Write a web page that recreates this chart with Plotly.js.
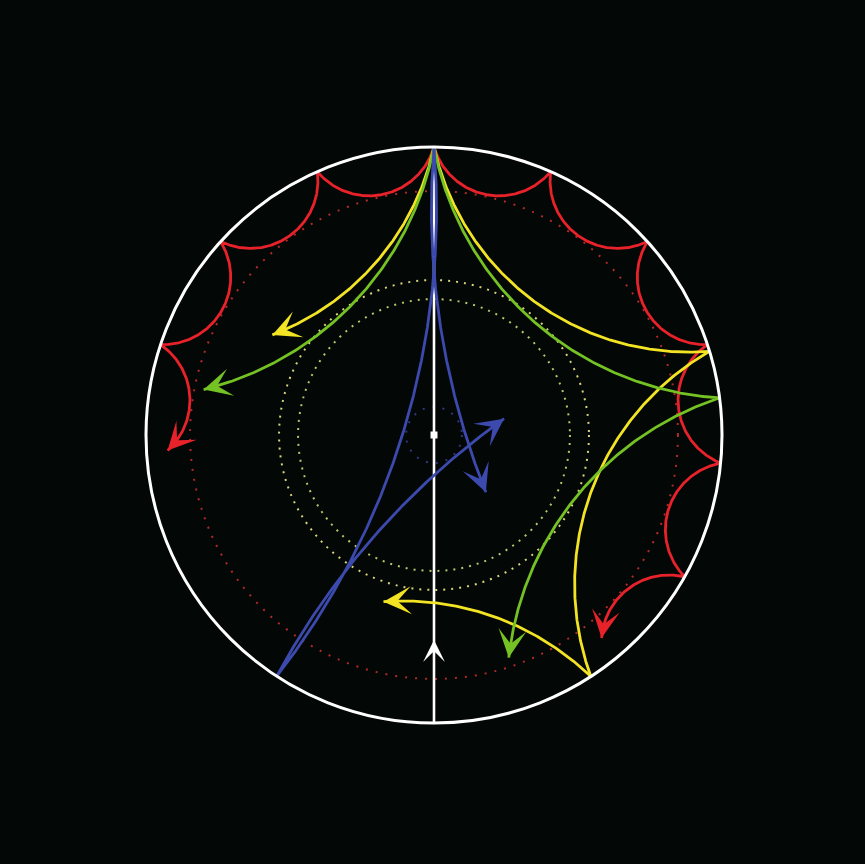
<!DOCTYPE html>
<html>
<head>
<meta charset="utf-8">
<script src="https://cdn.plot.ly/plotly-3.0.1.min.js"></script>
<style>html,body{margin:0;padding:0;background:#030705;}</style>
</head>
<body>
<div id="chart" style="width:865px;height:864px;"></div>
<script>
// Boundary bounce angles (degrees), final entry = next boundary target
const redRight    = [90, 66.1, 42.2, 18.3, -5.6, -29.5, -53.4];
const redLeft     = [90, 113.9, 137.8, 161.7, 185.6];
const yellowRight = [90, 16.9, -57.0, -131.0];
const yellowLeft  = [90, 163.1];
const greenRight  = [90, 7.4, -75.2];
const greenLeft   = [90, 172.6];
const blueLeft    = [90, 236.9, 383.8];
const blueRight   = [90, -56.9];
// polar angle of arrow tips (degrees)
const redRightTip = -50.4, redLeftTip = 183.3;
const yellowRightTip = -106.5, yellowLeftTip = 148.0;
const greenRightTip = -71.3, greenLeftTip = 168.7;
const blueLeftTip = 372.7, blueRightTip = -47.4;
// closest approach of each family's arcs (fraction of disk radius)
const redDepth = 0.854, yellowDepth = 0.58, greenDepth = 0.525, blueDepth = 0.105;
// dotted circles radii
const dottedRadii  = [0.847, 0.538, 0.472, 0.097];
const dottedColors = ['#b02a2a', '#d8d47a', '#b4c86a', '#2e3a80'];
const dottedDash   = ['2px,8px', '2px,6px', '2px,6px', '2px,8px'];
// radial white line arrow position
const whiteArrowY = -0.712;

const RED = '#e8222a', YELLOW = '#f2e424', GREEN = '#74c224', BLUE = '#3c4aae';

const D2R = Math.PI / 180;
function wrapPi(a) { while (a > Math.PI) a -= 2*Math.PI; while (a <= -Math.PI) a += 2*Math.PI; return a; }
function norm2pi(a) { while (a < 0) a += 2*Math.PI; while (a >= 2*Math.PI) a -= 2*Math.PI; return a; }

function arcPoints(thA, thB, d, tip) {
  const A = thA*D2R, B = thB*D2R;
  const phi = (B - A)/2, m = (A + B)/2;
  const cphi = Math.cos(phi), sphi = Math.sin(phi);
  const c = (1 - d*d) / (2*(cphi - d));
  const rr = c - d;
  const a = norm2pi(Math.atan2(-sphi, cphi - c));
  const b = norm2pi(Math.atan2(sphi, cphi - c));
  const n = 300;
  const sgn = phi >= 0 ? 1 : -1;
  const target = tip == null ? null : wrapPi(tip*D2R - A) * sgn;
  const xs = [], ys = [];
  const cm = Math.cos(m), sm = Math.sin(m);
  for (let i = 0; i <= n; i++) {
    const psi = a + (b - a)*i/n;
    const lx = c + rr*Math.cos(psi), ly = rr*Math.sin(psi);
    const gx = lx*cm - ly*sm, gy = lx*sm + ly*cm;
    if (target != null && i > 0) {
      const prog = wrapPi(Math.atan2(gy, gx) - A) * sgn;
      if (prog >= target) { xs.push(gx); ys.push(gy); break; }
    }
    xs.push(gx); ys.push(gy);
  }
  return [xs, ys];
}

function path(bounces, d, tip) {
  let X = [], Y = [];
  for (let k = 0; k < bounces.length - 1; k++) {
    const last = (k === bounces.length - 2);
    const [xs, ys] = arcPoints(bounces[k], bounces[k+1], d, last ? tip : null);
    X = X.concat(k ? xs.slice(1) : xs); Y = Y.concat(k ? ys.slice(1) : ys);
  }
  return [X, Y];
}

const families = [
  [redRight, redDepth, redRightTip, RED],
  [redLeft, redDepth, redLeftTip, RED],
  [yellowRight, yellowDepth, yellowRightTip, YELLOW],
  [yellowLeft, yellowDepth, yellowLeftTip, YELLOW],
  [greenRight, greenDepth, greenRightTip, GREEN],
  [greenLeft, greenDepth, greenLeftTip, GREEN],
  [blueLeft, blueDepth, blueLeftTip, BLUE],
  [blueRight, blueDepth, blueRightTip, BLUE]
];

const traces = [];
const annotations = [];
const shapes = [];

// dotted circles
dottedRadii.forEach((r, i) => {
  shapes.push({type:'circle', xref:'x', yref:'y', x0:-r, x1:r, y0:-r, y1:r,
    line:{color:dottedColors[i], width:2, dash:dottedDash[i]}, layer:'below'});
});
// boundary circle
shapes.push({type:'circle', xref:'x', yref:'y', x0:-1, x1:1, y0:-1, y1:1,
  line:{color:'#ffffff', width:3}});

// white radial line
traces.push({x:[0,0], y:[1,-1], mode:'lines', line:{color:'#ffffff', width:2.6}, hoverinfo:'skip'});

families.forEach(([b, d, tip, col]) => {
  const [X, Y] = path(b, d, tip);
  traces.push({x:X, y:Y, mode:'lines', line:{color:col, width:2.8}, hoverinfo:'skip'});
  // arrow tail: walk back along path
  const n = X.length - 1;
  let j = n, acc = 0;
  while (j > 0 && acc < 0.04) { acc += Math.hypot(X[j]-X[j-1], Y[j]-Y[j-1]); j--; }
  annotations.push({x:X[n], y:Y[n], ax:X[j], ay:Y[j], xref:'x', yref:'y', axref:'x', ayref:'y',
    showarrow:true, arrowhead:3, arrowsize:1.55, arrowwidth:3, arrowcolor:col, text:'', standoff:0});
});

// white arrow on radial line
annotations.push({x:0, y:whiteArrowY, ax:0, ay:whiteArrowY-0.05, xref:'x', yref:'y', axref:'x', ayref:'y',
  showarrow:true, arrowhead:3, arrowsize:1.4, arrowwidth:2.6, arrowcolor:'#ffffff', text:'', standoff:0});
// center square
traces.push({x:[0], y:[0], mode:'markers', marker:{symbol:'square', size:7, color:'#ffffff'}, hoverinfo:'skip'});

const CX = 434, CY = 435, U = 288;
const layout = {
  width:865, height:864,
  margin:{l:0, r:0, t:0, b:0},
  paper_bgcolor:'#030705', plot_bgcolor:'#030705',
  showlegend:false,
  xaxis:{range:[-CX/U, (865-CX)/U], visible:false, fixedrange:true},
  yaxis:{range:[(CY-864)/U, CY/U], visible:false, fixedrange:true},
  shapes:shapes, annotations:annotations
};
Plotly.newPlot('chart', traces, layout, {displayModeBar:false, staticPlot:true});
</script>
</body>
</html>
